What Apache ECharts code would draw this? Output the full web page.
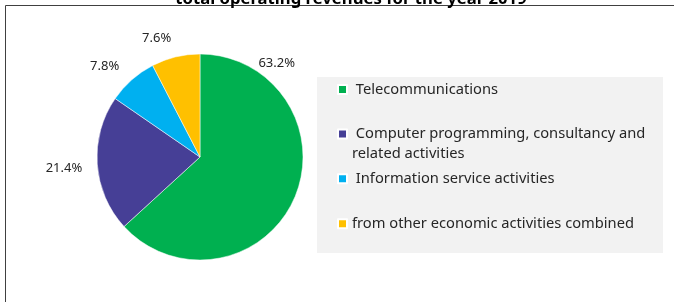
<!DOCTYPE html>
<html>
<head>
<meta charset="utf-8">
<title>Operating revenues</title>
<script src="https://cdn.jsdelivr.net/npm/echarts@6/dist/echarts.min.js"></script>
<style>
  html, body { margin: 0; padding: 0; background: #fff; }
  #chart { width: 674px; height: 302px; }
</style>
</head>
<body>
<div id="chart"></div>
<script>
  // data
  var categories = [
    'Telecommunications',
    'Computer programming, consultancy and related activities',
    'Information service activities',
    'from other economic activities combined'
  ];
  var shares = [63.2, 21.4, 7.8, 7.6];
  var colors = ['#00b050', '#463f96', '#00b0f0', '#ffc000'];

  var fontFamily = '"Noto Sans", "Open Sans", sans-serif';
  var legendCenters = [89.6, 134, 178.8, 223.7];
  var lineH = 20;
  // Excel placed the labels by "best fit", shift them to match
  var labelNudge = [[-56, -139], [6, 3], [5, -6], [9, -9]];

  var chart = echarts.init(document.getElementById('chart'));

  var legends = categories.map(function (name, i) {
    var twoLines = name.indexOf(' and ') > 0;
    return {
      data: [name],
      orient: 'vertical',
      left: 337,
      top: legendCenters[i] - (twoLines ? lineH * 1.5 : lineH / 2),
      padding: 0,
      itemWidth: 9,
      itemHeight: 9,
      icon: 'rect',
      selectedMode: false,
      formatter: function (n) {
        var s = i < 3 ? ' ' + n : n;
        // blank first line keeps the icon level with the first text line
        return twoLines ? '\n' + s.replace(' and ', ' and\n') : s;
      },
      textStyle: {
        fontFamily: fontFamily,
        fontSize: 14.7,
        color: '#262626',
        lineHeight: lineH
      }
    };
  });

  chart.setOption({
    animation: false,
    title: {
      text: 'total operating revenues for the year 2019',
      left: 346,
      textAlign: 'center',
      top: -14,
      textStyle: { fontFamily: fontFamily, fontSize: 16.7, fontWeight: 'bold', color: '#000' }
    },
    graphic: [
      {
        type: 'rect', z: 0,
        shape: { x: 317, y: 77, width: 346, height: 176 },
        style: { fill: '#f2f2f2' }
      },
      {
        type: 'polyline', z: 0,
        shape: { points: [[5.5, 302], [5.5, 5.5], [674, 5.5]] },
        style: { stroke: '#404040', lineWidth: 1, fill: null }
      }
    ],
    legend: legends,
    color: colors,
    series: [{
      type: 'pie',
      center: [200, 157],
      radius: 103,
      startAngle: 90,
      clockwise: true,
      itemStyle: { borderColor: '#fff', borderWidth: 0.5 },
      label: {
        show: true,
        position: 'outside',
        formatter: '{c}%',
        fontFamily: fontFamily,
        fontSize: 13,
        color: '#262626'
      },
      labelLine: { show: false, length: 10, length2: 6 },
      labelLayout: function (p) {
        var n = labelNudge[p.dataIndex];
        return { dx: n[0], dy: n[1] };
      },
      emphasis: { disabled: true },
      data: categories.map(function (c, i) {
        return { name: c, value: shares[i] };
      })
    }]
  });
</script>
</body>
</html>
